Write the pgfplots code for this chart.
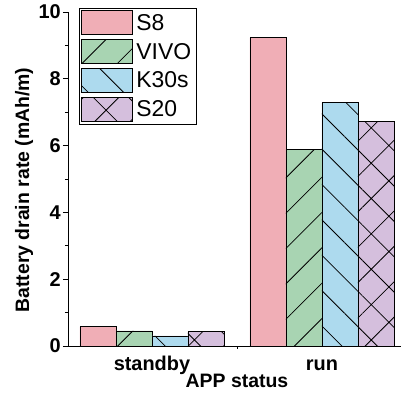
\documentclass[border=0pt]{standalone}
\usepackage{pgfplots}
\pgfplotsset{compat=1.18}
\usepackage{fontspec}
\setmainfont{Liberation Sans}
\usetikzlibrary{patterns.meta}
\definecolor{cS8}{HTML}{F0AEB6}
\definecolor{cVIVO}{HTML}{A8D4B2}
\definecolor{cK30}{HTML}{ADDAEE}
\definecolor{cS20}{HTML}{D5BFDD}
\begin{document}
\begin{tikzpicture}
\begin{axis}[
  scale only axis,
  width=333bp, height=334bp,
  xmin=-0.494, xmax=1.465,
  ymin=0, ymax=10,
  axis x line*=bottom, axis y line*=left,
  axis line style={black, line width=0.9bp},
  tick align=outside,
  major tick length=5bp, minor tick length=3bp,
  xtick={0,1}, xticklabels={standby,run},
  xtick style={draw=none},
  extra x ticks={0.5}, extra x tick labels={},
  extra x tick style={xtick style={draw=black, line width=0.8bp}, major tick length=3bp},
  ytick={0,2,4,6,8,10}, minor y tick num=1,
  ytick style={draw=black, line width=0.8bp},
  /pgf/number format/assume math mode=true,
  tick label style={font=\bfseries\fontsize{20}{20}\selectfont},
  yticklabel style={inner sep=2bp},
  xticklabel style={anchor=base, yshift=-19.7bp},
  xlabel={APP status},
  ylabel={Battery drain rate (mAh/m)},
  label style={font=\bfseries\fontsize{19.5}{20}\selectfont},
  xlabel style={at={(axis description cs:0.5075,-0.1257)}, anchor=base},
  ylabel style={at={(axis description cs:-0.132,0.467)}, anchor=center},
  bar width=0.2118,
  ybar=0pt,
  legend style={at={(rel axis cs:0,1)}, anchor=north west, xshift=11bp, yshift=4bp,
    draw=black, line width=0.9bp, inner xsep=2bp, inner ysep=2bp,
    font=\fontsize{23}{23}\selectfont, row sep=4bp,
    nodes={inner sep=3bp}},
  legend cell align=left,
  legend image code/.code={\draw[#1, line width=0.9bp] (0bp,-12bp) rectangle (51bp,12bp);},
]
\addplot[fill=cS8, draw=black, line width=0.8bp, bar shift=-0.3176]
  coordinates {(0,0.58) (1,9.23)};
\addplot[fill=cVIVO, draw=black, line width=0.8bp, bar shift=-0.1059,
  postaction={pattern={Lines[angle=45,distance=25bp,line width=0.8bp]}, pattern color=black}]
  coordinates {(0,0.45) (1,5.88)};
\addplot[fill=cK30, draw=black, line width=0.8bp, bar shift=0.1059,
  postaction={pattern={Lines[angle=-45,distance=25bp,line width=0.8bp]}, pattern color=black}]
  coordinates {(0,0.30) (1,7.29)};
\addplot[fill=cS20, draw=black, line width=0.8bp, bar shift=0.3176,
  postaction={pattern={Hatch[angle=45,distance=25bp,line width=0.8bp]}, pattern color=black}]
  coordinates {(0,0.43) (1,6.71)};
\legend{S8,VIVO,K30s,S20}
\end{axis}
\pgfresetboundingbox
\path (current axis.south west) ++(-68bp,-47bp) coordinate (bbA);
\path (current axis.north east) ++(0bp,12bp) coordinate (bbB);
\path[use as bounding box] (bbA) rectangle (bbB);
\end{tikzpicture}
\end{document}
